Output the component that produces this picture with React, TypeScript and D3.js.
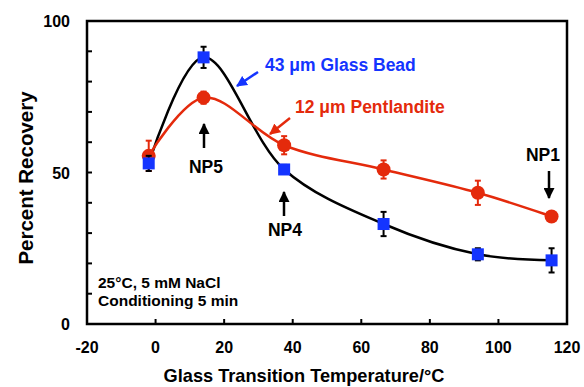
import React, { useEffect, useRef } from "react";
import * as d3 from "d3";

const tg = [-2, 14, 37.5, 66.5, 94, 115.5];
const glassBead = [53, 88, 51, 33, 23, 21];
const glassErr = [2.5, 3.5, 1.5, 4, 2, 4];
const pentlandite = [55.5, 74.7, 59, 51, 43.3, 35.5];
const pentErr = [5, 2, 3, 3, 4, 1.5];
const xTicks = [-20, 0, 20, 40, 60, 80, 100, 120];
const yLabels = [0, 50, 100];
const yTicks = d3.range(0, 101, 10);

const RED = "#e42a0c";
const BLUE = "#1434ff";

export default function App() {
  const ref = useRef<SVGSVGElement>(null);

  useEffect(() => {
    const svg = d3.select(ref.current);
    svg.selectAll("*").remove();

    const margin = { top: 21, right: 17, bottom: 63, left: 87 };
    const W = 584, H = 387;
    const w = W - margin.left - margin.right;
    const h = H - margin.top - margin.bottom;

    const x = d3.scaleLinear().domain([-20, 120]).range([margin.left, margin.left + w]);
    const y = d3.scaleLinear().domain([0, 100]).range([margin.top + h, margin.top]);

    const font = "Arial, 'Liberation Sans', sans-serif";

    svg.append("defs").selectAll("marker")
      .data([["ab", "#000"], ["ar", RED], ["ak", BLUE]])
      .join("marker")
      .attr("id", d => d[0])
      .attr("viewBox", "0 0 10 10")
      .attr("refX", 9).attr("refY", 5)
      .attr("markerWidth", 4.4).attr("markerHeight", 4.4)
      .attr("markerUnits", "strokeWidth")
      .attr("orient", "auto")
      .append("path").attr("d", "M0,0 L10,5 L0,10 Z").attr("fill", d => d[1]);

    // frame
    svg.append("rect")
      .attr("x", margin.left).attr("y", margin.top)
      .attr("width", w).attr("height", h)
      .attr("fill", "none").attr("stroke", "#000").attr("stroke-width", 2.5);

    // ticks (inward)
    svg.append("g").selectAll("line").data(xTicks.slice(1, -1)).join("line")
      .attr("x1", d => x(d)).attr("x2", d => x(d))
      .attr("y1", y(0)).attr("y2", y(0) - 5)
      .attr("stroke", "#000").attr("stroke-width", 2);
    svg.append("g").selectAll("line").data(yTicks.slice(1, -1)).join("line")
      .attr("x1", x(-20)).attr("x2", x(-20) + 5)
      .attr("y1", d => y(d)).attr("y2", d => y(d))
      .attr("stroke", "#000").attr("stroke-width", 2);

    svg.append("g").selectAll("text").data(xTicks).join("text")
      .attr("x", d => x(d)).attr("y", y(0) + 29)
      .attr("text-anchor", "middle")
      .attr("font-family", font).attr("font-weight", "bold").attr("font-size", 16)
      .text(d => d);
    svg.append("g").selectAll("text").data(yLabels).join("text")
      .attr("x", x(-20) - 17).attr("y", d => y(d) + 6)
      .attr("text-anchor", "end")
      .attr("font-family", font).attr("font-weight", "bold").attr("font-size", 16)
      .text(d => d);

    svg.append("text")
      .attr("x", 304).attr("y", 382)
      .attr("text-anchor", "middle")
      .attr("font-family", font).attr("font-weight", "bold").attr("font-size", 18.2)
      .text("Glass Transition Temperature/°C");
    svg.append("text")
      .attr("transform", `translate(33,178) rotate(-90)`)
      .attr("text-anchor", "middle")
      .attr("font-family", font).attr("font-weight", "bold").attr("font-size", 20.5)
      .text("Percent Recovery");

    const blueData = tg.map((t, i) => ({ t, v: glassBead[i], e: glassErr[i] }));
    const redData = tg.map((t, i) => ({ t, v: pentlandite[i], e: pentErr[i] }));

    const line = d3.line<{ t: number; v: number }>()
      .x(d => x(d.t)).y(d => y(d.v))
      .curve(d3.curveCatmullRom.alpha(0.5));

    svg.append("path").datum(blueData).attr("d", line)
      .attr("fill", "none").attr("stroke", "#000").attr("stroke-width", 2.5);
    svg.append("path").datum(redData).attr("d", line)
      .attr("fill", "none").attr("stroke", RED).attr("stroke-width", 2.5);

    const errBars = (data: typeof blueData, color: string) => {
      const g = svg.append("g").attr("stroke", color).attr("stroke-width", 2);
      g.selectAll(".v").data(data).join("line")
        .attr("x1", d => x(d.t)).attr("x2", d => x(d.t))
        .attr("y1", d => y(d.v - d.e)).attr("y2", d => y(d.v + d.e));
      g.selectAll(".c").data(data.flatMap(d => [d.v - d.e, d.v + d.e].map(v => ({ t: d.t, v }))))
        .join("line")
        .attr("x1", d => x(d.t) - 3).attr("x2", d => x(d.t) + 3)
        .attr("y1", d => y(d.v)).attr("y2", d => y(d.v));
    };

    errBars(redData, RED);
    svg.append("g").selectAll("circle").data(redData).join("circle")
      .attr("cx", d => x(d.t)).attr("cy", d => y(d.v)).attr("r", 7)
      .attr("fill", RED);

    errBars(blueData, "#000");
    const s = 12;
    svg.append("g").selectAll("rect").data(blueData).join("rect")
      .attr("x", d => x(d.t) - s / 2).attr("y", d => y(d.v) - s / 2)
      .attr("width", s).attr("height", s)
      .attr("fill", BLUE);

    // annotations
    const label = (tx: number, ty: number, str: string, color: string, anchor = "start") =>
      svg.append("text")
        .attr("x", tx).attr("y", ty).attr("text-anchor", anchor)
        .attr("font-family", font).attr("font-weight", "bold").attr("font-size", 17.5)
        .attr("fill", color).text(str);

    const arrow = (x1: number, y1: number, x2: number, y2: number, color: string, id: string) =>
      svg.append("line")
        .attr("x1", x1).attr("y1", y1).attr("x2", x2).attr("y2", y2)
        .attr("stroke", color).attr("stroke-width", 2.5)
        .attr("marker-end", `url(#${id})`);

    label(265, 71, "43 μm Glass Bead", BLUE);
    arrow(258, 72, 237, 86, BLUE, "ak");
    label(295, 113, "12 μm Pentlandite", RED);
    arrow(290, 118, 270, 134, RED, "ar");

    arrow(204, 148, 204, 124, "#000", "ab");
    label(206, 173, "NP5", "#000", "middle");
    arrow(284, 216, 284, 192, "#000", "ab");
    label(285, 236, "NP4", "#000", "middle");
    label(543, 161, "NP1", "#000", "middle");
    arrow(549, 171, 549, 198, "#000", "ab");

    svg.append("text")
      .attr("x", 98).attr("y", 288)
      .attr("font-family", font).attr("font-weight", "bold").attr("font-size", 15.5)
      .text("25°C, 5 mM NaCl");
    svg.append("text")
      .attr("x", 98).attr("y", 306)
      .attr("font-family", font).attr("font-weight", "bold").attr("font-size", 15.5)
      .text("Conditioning 5 min");
  }, []);

  return (
    <svg ref={ref} width={584} height={387}
      style={{ position: "absolute", left: 0, top: 0, background: "#fff" }} />
  );
}
